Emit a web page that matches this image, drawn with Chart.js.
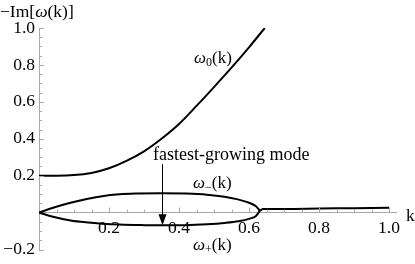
<!DOCTYPE html>
<html lang="en">
<head>
    <meta charset="UTF-8">
    <title>Im omega(k)</title>
    <script src="https://cdn.jsdelivr.net/npm/chart.js"></script>
    <style>
        html, body { margin: 0; padding: 0; background: #fff; }
        #wrap { width: 415px; height: 264px; }
    </style>
</head>
<body>
    <div id="wrap"><canvas id="myChart"></canvas></div>

    <script>
        // values
        const k0 = [0, 0.05, 0.1, 0.15, 0.2, 0.25, 0.3, 0.35, 0.4, 0.45, 0.5, 0.55, 0.6, 0.645];
        const omega0 = [0.2, 0.2, 0.203, 0.215, 0.24, 0.28, 0.332, 0.4, 0.48, 0.578, 0.68, 0.785, 0.895, 1.0];

        const kMinus = [0, 0.04, 0.09, 0.14, 0.18, 0.23, 0.28, 0.35, 0.42, 0.48, 0.53, 0.565, 0.6, 0.62, 0.631];
        const omegaMinus = [0, 0.026, 0.053, 0.075, 0.089, 0.099, 0.103, 0.105, 0.103, 0.097, 0.086, 0.073, 0.053, 0.034, 0.01];

        const kPlus = [0, 0.04, 0.09, 0.14, 0.18, 0.23, 0.3, 0.35, 0.42, 0.48, 0.53, 0.57, 0.6, 0.62, 0.631];
        const omegaPlus = [0, -0.023, -0.043, -0.054, -0.06, -0.065, -0.068, -0.069, -0.068, -0.063, -0.056, -0.047, -0.034, -0.018, 0.01];

        const kMerged = [0.631, 0.64, 0.7, 0.8, 0.9, 1.0];
        const omegaMerged = [0.01, 0.019, 0.02, 0.022, 0.024, 0.026];

        const xTicks = [0.2, 0.4, 0.6, 0.8, 1.0];
        const yTicks = [-0.2, 0.2, 0.4, 0.6, 0.8, 1.0];

        // arrow for the fastest-growing mode
        const arrowK = 0.351, arrowFrom = 0.262, arrowTo = -0.069;

        const serif = '"Liberation Serif", "DejaVu Serif", serif';
        const axisGray = '#a8a8a8';

        function pts(xs, ys) {
            return xs.map((x, i) => ({ x: x, y: ys[i] }));
        }

        function fmt(v) {
            return (v < 0 ? '\u2212' : '') + Math.abs(v).toFixed(1);
        }

        // draws text runs: [text, italic, size, dy]
        function runs(ctx, x, y, parts) {
            parts.forEach(p => {
                ctx.font = (p[1] ? 'italic ' : '') + p[2] + 'px ' + serif;
                ctx.fillText(p[0], x, y + p[3]);
                x += ctx.measureText(p[0]).width;
            });
        }

        const decor = {
            id: 'decor',
            afterDraw(chart) {
                const ctx = chart.ctx;
                const xs = chart.scales.x, ys = chart.scales.y;
                const x0 = xs.getPixelForValue(0), y0 = ys.getPixelForValue(0);
                ctx.save();

                // inward tick marks, major every 0.2 and minor every 0.05
                ctx.strokeStyle = axisGray;
                ctx.lineWidth = 1;
                ctx.beginPath();
                for (let i = 1; i <= 20; i++) {
                    const px = Math.round(xs.getPixelForValue(i * 0.05)) + 0.5;
                    const len = i % 4 === 0 ? 5 : 3;
                    ctx.moveTo(px, y0);
                    ctx.lineTo(px, y0 - len);
                }
                for (let i = -4; i <= 20; i++) {
                    if (i === 0) continue;
                    const py = Math.round(ys.getPixelForValue(i * 0.05)) + 0.5;
                    const len = i % 4 === 0 ? 5 : 3;
                    ctx.moveTo(x0, py);
                    ctx.lineTo(x0 + len, py);
                }
                ctx.stroke();

                // arrow
                const ax = Math.round(xs.getPixelForValue(arrowK)) + 0.5;
                const ay1 = ys.getPixelForValue(arrowFrom);
                const ay2 = ys.getPixelForValue(arrowTo);
                ctx.strokeStyle = '#000';
                ctx.fillStyle = '#000';
                ctx.lineWidth = 1;
                ctx.beginPath();
                ctx.moveTo(ax, ay1);
                ctx.lineTo(ax, ay2 - 9);
                ctx.stroke();
                ctx.beginPath();
                ctx.moveTo(ax - 4, ay2 - 11);
                ctx.lineTo(ax + 4, ay2 - 11);
                ctx.lineTo(ax, ay2);
                ctx.closePath();
                ctx.fill();

                // labels
                ctx.fillStyle = '#000';
                ctx.textBaseline = 'alphabetic';
                ctx.textAlign = 'left';
                runs(ctx, 0, 17, [['\u2212Im[', false, 17.5, 0], ['\u03c9', true, 17.5, 0], ['(k)]', false, 17.5, 0]]);
                runs(ctx, 406, 221, [['k', false, 17.5, 0]]);
                runs(ctx, 153, 160, [['fastest-growing mode', false, 18, 0]]);
                runs(ctx, 194, 63, [['\u03c9', true, 17, 0], ['0', false, 12, 3], ['(k)', false, 17, 0]]);
                runs(ctx, 193, 188, [['\u03c9', true, 17, 0], ['\u2212', false, 12, 3], ['(k)', false, 17, 0]]);
                runs(ctx, 193, 250, [['\u03c9', true, 17, 0], ['+', false, 12, 3], ['(k)', false, 17, 0]]);
                ctx.restore();
            }
        };

        const line = { showLine: true, borderColor: '#000', borderWidth: 2, pointRadius: 0, cubicInterpolationMode: 'monotone', fill: false };

        const ctx = document.getElementById('myChart').getContext('2d');
        const chart = new Chart(ctx, {
            type: 'scatter',
            data: {
                datasets: [
                    Object.assign({ label: 'omega0', data: pts(k0, omega0) }, line),
                    Object.assign({ label: 'omegaMinus', data: pts(kMinus, omegaMinus) }, line),
                    Object.assign({ label: 'omegaPlus', data: pts(kPlus, omegaPlus) }, line),
                    Object.assign({ label: 'merged', data: pts(kMerged, omegaMerged) }, line)
                ]
            },
            options: {
                responsive: true,
                maintainAspectRatio: false,
                animation: false,
                events: [],
                layout: { padding: { left: 0, right: 19, top: 28, bottom: 11 } },
                plugins: { legend: { display: false }, tooltip: { enabled: false } },
                scales: {
                    x: {
                        type: 'linear',
                        min: 0,
                        max: 1.02,
                        position: { y: 0 },
                        afterBuildTicks: s => { s.ticks = xTicks.map(v => ({ value: v })); },
                        afterFit: s => { s.height = 0; },
                        grid: { drawOnChartArea: false, drawTicks: false },
                        border: { display: true, color: axisGray, width: 1 },
                        ticks: { color: '#000', padding: 5, maxRotation: 0, font: { family: serif, size: 17.5 }, callback: v => fmt(v) }
                    },
                    y: {
                        type: 'linear',
                        min: -0.2,
                        max: 1.0,
                        position: 'left',
                        afterBuildTicks: s => { s.ticks = yTicks.map(v => ({ value: v })); },
                        afterFit: s => { s.width = 39; },
                        grid: { drawOnChartArea: false, drawTicks: false },
                        border: { display: true, color: axisGray, width: 1 },
                        ticks: { color: '#000', padding: 4, font: { family: serif, size: 17.5 }, callback: v => fmt(v) }
                    }
                }
            },
            plugins: [decor]
        });
    </script>
</body>
</html>
